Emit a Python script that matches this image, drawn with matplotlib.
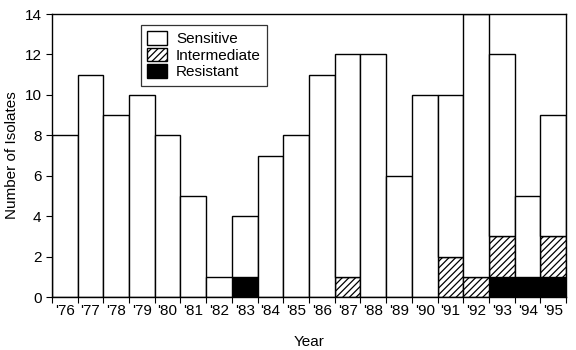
import matplotlib
matplotlib.use("Agg")
import matplotlib.pyplot as plt
import numpy as np

plt.rcParams['font.family'] = ['Liberation Sans', 'DejaVu Sans']
plt.rcParams['hatch.linewidth'] = 0.9

years = ["'76", "'77", "'78", "'79", "'80", "'81", "'82", "'83", "'84", "'85",
         "'86", "'87", "'88", "'89", "'90", "'91", "'92", "'93", "'94", "'95"]
resistant = [0, 0, 0, 0, 0, 0, 0, 1, 0, 0, 0, 0, 0, 0, 0, 0, 0, 1, 1, 1]
intermediate = [0, 0, 0, 0, 0, 0, 0, 0, 0, 0, 0, 1, 0, 0, 0, 2, 1, 2, 0, 2]
sensitive = [8, 11, 9, 10, 8, 5, 1, 3, 7, 8, 11, 11, 12, 6, 10, 8, 13, 9, 4, 6]

x = np.arange(len(years))
res = np.array(resistant)
inter = np.array(intermediate)
sens = np.array(sensitive)

fig = plt.figure(figsize=(5.76, 3.5), dpi=100)
ax = fig.add_axes([0.090, 0.151, 0.893, 0.809])

ax.bar(x, res, width=1, color='black', edgecolor='black', linewidth=1, label='Resistant')
ax.bar(x, inter, width=1, bottom=res, color='white', edgecolor='black',
       hatch='/////', linewidth=1, label='Intermediate')
ax.bar(x, sens, width=1, bottom=res + inter, color='white', edgecolor='black',
       linewidth=1, label='Sensitive')

ax.set_xlim(-0.5, len(years) - 0.5)
ax.set_ylim(0, 14)
ax.set_yticks(range(0, 15, 2))
ax.set_xticks(x)
ax.set_xticklabels(years, fontsize=11)
# small marks at the bar boundaries
ax.set_xticks(np.arange(-0.5, len(years)), minor=True)
ax.tick_params(axis='x', which='major', length=0, pad=5)
ax.tick_params(axis='x', which='minor', length=4, width=0.8, direction='out')
ax.tick_params(axis='y', labelsize=11, length=4, width=0.8, direction='out')

for s in ax.spines.values():
    s.set_linewidth(1)

ax.set_ylabel('Number of Isolates', fontsize=11)
ax.set_xlabel('Year', fontsize=11, labelpad=12)

handles, labels = ax.get_legend_handles_labels()
leg = ax.legend(handles[::-1], labels[::-1], loc='upper left',
                bbox_to_anchor=(0.173, 0.961), borderaxespad=0,
                fontsize=11, frameon=True, fancybox=False, edgecolor='black',
                handlelength=1.3, handleheight=1.0, handletextpad=0.6,
                labelspacing=0.1, borderpad=0.4)
leg.get_frame().set_linewidth(0.9)

fig.savefig('out.png', dpi=100)
